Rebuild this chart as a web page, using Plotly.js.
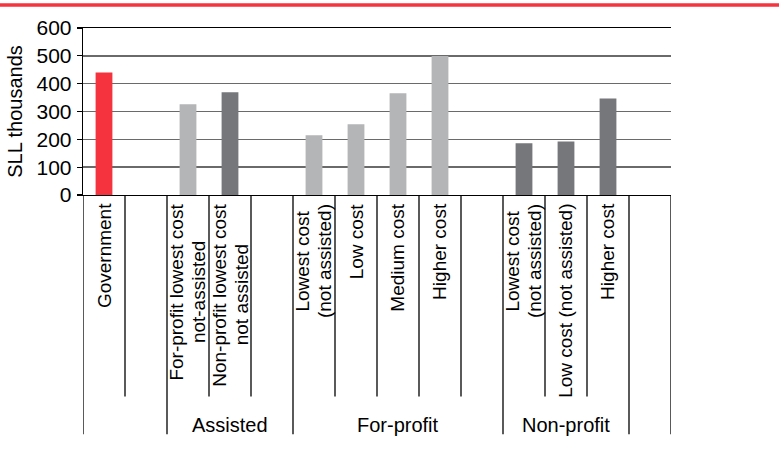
<!DOCTYPE html>
<html>
<head>
<meta charset="utf-8">
<script src="https://cdn.plot.ly/plotly-3.0.1.min.js"></script>
<style>html,body{margin:0;padding:0;background:#fff;}#chart{width:779px;height:451px;}</style>
</head>
<body>
<div id="chart"></div>
<script>
// ---- data ----
const categories = [
  'Government', '',
  'For-profit lowest cost<br>not-assisted', 'Non-profit lowest cost<br>not assisted', '',
  'Lowest cost<br>(not assisted)', 'Low cost', 'Medium cost', 'Higher cost', '',
  'Lowest cost<br>(not assisted)', 'Low cost (not assisted)', 'Higher cost', ''
];
const values = [440, null, 326, 369, null, 215, 254, 366, 499, null, 186, 192, 347, null];
const barColors = ['#F5333F', null, '#B4B5B7', '#76777A', null,
  '#B4B5B7', '#B4B5B7', '#B4B5B7', '#B4B5B7', null,
  '#76777A', '#76777A', '#76777A', null];
const groupLabels = ['', 'Assisted', 'For-profit', 'Non-profit', ''];
const groupSizes = [2, 3, 5, 3, 1];
const yTickVals = [0, 100, 200, 300, 400, 500, 600];
const yTitle = 'SLL thousands';

// ---- layout helpers ----
const FONT = 'Liberation Sans, Arial, Helvetica, sans-serif';
const LABEL_SIZE = 19;
const LINE_GAP = 22.5;
const idx = categories.map((_, i) => i);
const plotTop = 27.5, plotBottom = 195, plotH = plotBottom - plotTop;
const py = (pix) => (plotBottom - pix) / plotH; // pixel y -> paper y

const ctx = document.createElement('canvas').getContext('2d');
ctx.font = LABEL_SIZE + 'px "Liberation Sans"';
const textW = (s) => ctx.measureText(s).width;

const shapes = [];
const annotations = [];

// red rule at top
shapes.push({type: 'line', xref: 'paper', yref: 'paper', x0: -0.2, x1: 1.3,
  y0: py(4.5), y1: py(4.5), line: {color: '#F5333F', width: 3.5}});

// group boundaries
const groupEdges = [0];
groupSizes.forEach(s => groupEdges.push(groupEdges[groupEdges.length - 1] + s));
const isGroupEdge = new Set(groupEdges);
for (let b = 0; b <= categories.length; b++) {
  const long = isGroupEdge.has(b);
  shapes.push({type: 'line', xref: 'x', yref: 'paper', x0: b - 0.5, x1: b - 0.5,
    y0: 0, y1: py(long ? 435 : 397), line: {color: '#000', width: 1.3}});
}

// category labels (rotated, block top-aligned, lines centred)
const labelTop = 204;
categories.forEach((c, i) => {
  if (!c) return;
  const lines = c.split('<br>');
  const widths = lines.map(textW);
  const maxW = Math.max(...widths);
  lines.forEach((ln, j) => {
    annotations.push({xref: 'x', yref: 'paper', x: i, y: py(labelTop + maxW / 2),
      xanchor: 'center', yanchor: 'middle',
      xshift: (j - (lines.length - 1) / 2) * LINE_GAP,
      text: ln, textangle: -90, showarrow: false,
      font: {family: FONT, size: LABEL_SIZE, color: '#000'}});
  });
});

// group labels
groupLabels.forEach((g, k) => {
  if (!g) return;
  const center = (groupEdges[k] + groupEdges[k + 1] - 1) / 2;
  annotations.push({xref: 'x', yref: 'paper', x: center, y: py(426), xanchor: 'center', yanchor: 'middle',
    text: g, showarrow: false, font: {family: FONT, size: 20, color: '#000'}});
});

const trace = {
  type: 'bar', x: idx, y: values, width: 0.4,
  marker: {color: barColors.map(c => c || '#fff'), line: {width: 0}},
  hoverinfo: 'skip'
};

const layout = {
  width: 779, height: 451,
  margin: {l: 83, r: 108, t: plotTop, b: 451 - plotBottom, pad: 0},
  paper_bgcolor: '#fff', plot_bgcolor: '#fff',
  showlegend: false,
  font: {family: FONT, size: 20, color: '#000'},
  xaxis: {range: [-0.5, categories.length - 0.5], showticklabels: false, ticks: '',
    showgrid: false, zeroline: false, showline: true, mirror: true,
    linecolor: '#000', linewidth: 1.3, fixedrange: true},
  yaxis: {range: [0, 600], tickvals: yTickVals, ticks: 'outside', ticklen: 5, tickwidth: 1.2,
    tickcolor: '#000', showline: true, linecolor: '#000', linewidth: 1.3,
    showgrid: true, gridcolor: '#6A6A6A', gridwidth: 1.6, zeroline: false,
    tickfont: {family: FONT, size: 21, color: '#000'}, ticklabelstandoff: 1,
    title: {text: yTitle, font: {family: FONT, size: 20, color: '#000'}, standoff: 8},
    automargin: false, fixedrange: true},
  bargap: 0.6,
  shapes: shapes,
  annotations: annotations
};

Plotly.newPlot('chart', [trace], layout, {displayModeBar: false, staticPlot: true});
</script>
</body>
</html>
